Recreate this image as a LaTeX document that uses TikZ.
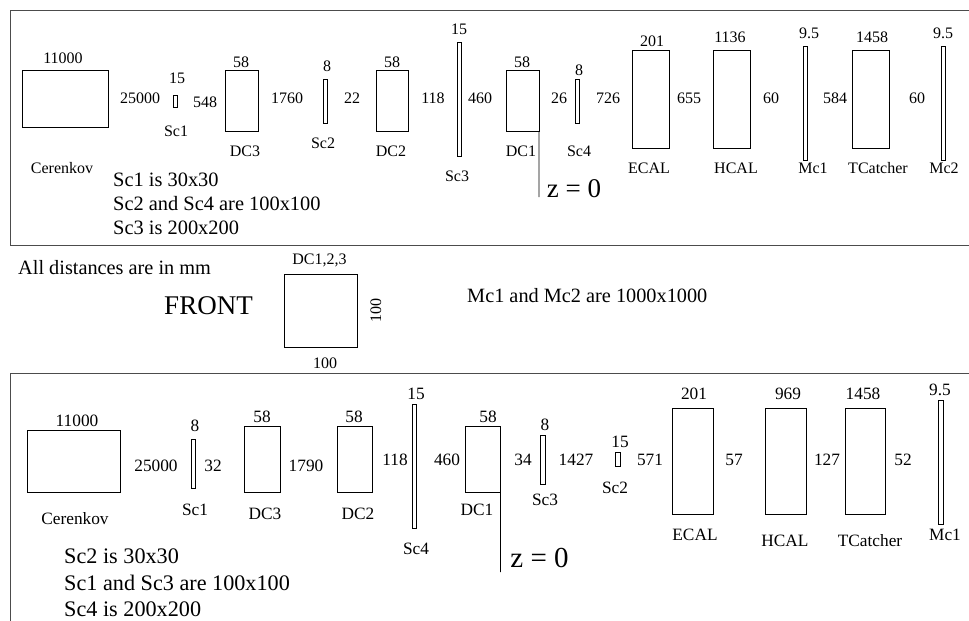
\documentclass[tikz,border=0pt]{standalone}
\usepackage{fontspec}
\setmainfont{Liberation Serif}
\usetikzlibrary{calc}

\tikzset{
  det/.style={draw=black, line width=0.8pt, inner sep=0pt, outer sep=0pt},
  toplab/.style={inner sep=0pt, font=\fontsize{16}{16}\selectfont},
  botlab/.style={inner sep=0pt, font=\fontsize{17.3}{17.3}\selectfont},
  topnote/.style={inner sep=0pt, anchor=west, font=\fontsize{20.4}{20.4}\selectfont},
  botnote/.style={inner sep=0pt, anchor=west, font=\fontsize{22.2}{22.2}\selectfont},
  midnote/.style={inner sep=0pt, anchor=west, font=\fontsize{20.3}{20.3}\selectfont},
  frame/.style={draw=black!70, line width=0.9pt}
}

\begin{document}
\begin{tikzpicture}[x=1pt, y=-1pt]

\useasboundingbox (0,0) rectangle (969,621);

% upper box
\draw[frame] (969,10) -- (10,10) -- (10,245) -- (969,245);

\node[det, minimum width=86pt, minimum height=57pt] (cerenkovA) at (65,99) {};
\node[det, minimum width=4pt, minimum height=12pt] (scOneA) at (175,101) {};
\node[det, minimum width=32.5pt, minimum height=61pt] (dcThreeA) at (241.7,101) {};
\node[det, minimum width=4pt, minimum height=44.5pt] (scTwoA) at (325,101.2) {};
\node[det, minimum width=32.5pt, minimum height=61pt] (dcTwoA) at (392.2,101) {};
\node[det, minimum width=4pt, minimum height=114pt] (scThreeA) at (459.5,99) {};
\node[det, minimum width=32.5pt, minimum height=61pt] (dcOneA) at (522.7,101) {};
\node[det, minimum width=4pt, minimum height=44.5pt] (scFourA) at (577.5,101.2) {};
\node[det, minimum width=36.5pt, minimum height=97.5pt] (ecalA) at (650.7,99.2) {};
\node[det, minimum width=37pt, minimum height=97.5pt] (hcalA) at (732,99.2) {};
\node[det, minimum width=4pt, minimum height=114pt] (mcOneA) at (805.5,103) {};
\node[det, minimum width=37pt, minimum height=97.5pt] (catcherA) at (870.5,99.2) {};
\node[det, minimum width=4pt, minimum height=114pt] (mcTwoA) at (943.5,103) {};

\node[toplab] (t1) at (63,58) {11000};
\node[toplab] (t2) at (177,78) {15};
\node[toplab] (t3) at (140,98) {25000};
\node[toplab] (t4) at (205,102) {548};
\node[toplab] (t5) at (241,62) {58};
\node[toplab] (t6) at (287,98) {1760};
\node[toplab] (t7) at (327,66) {8};
\node[toplab] (t8) at (352,98) {22};
\node[toplab] (t9) at (392,62) {58};
\node[toplab] (t10) at (433,98) {118};
\node[toplab] (t11) at (459,29) {15};
\node[toplab] (t12) at (480,98) {460};
\node[toplab] (t13) at (522,62) {58};
\node[toplab] (t14) at (559,98) {26};
\node[toplab] (t15) at (579,70) {8};
\node[toplab] (t16) at (608,98) {726};
\node[toplab] (t17) at (652,41) {201};
\node[toplab] (t18) at (689,98) {655};
\node[toplab] (t19) at (730,37) {1136};
\node[toplab] (t20) at (771,98) {60};
\node[toplab] (t21) at (809,33) {9.5};
\node[toplab] (t22) at (835,98) {584};
\node[toplab] (t23) at (872,37) {1458};
\node[toplab] (t24) at (917,98) {60};
\node[toplab] (t25) at (943,33) {9.5};

\node[toplab] (n1) at (62,168) {Cerenkov};
\node[toplab] (n2) at (176,131) {Sc1};
\node[toplab] (n3) at (245,151) {DC3};
\node[toplab] (n4) at (323,143) {Sc2};
\node[toplab] (n5) at (391,151) {DC2};
\node[toplab] (n6) at (457,176) {Sc3};
\node[toplab] (n7) at (521,151) {DC1};
\node[toplab] (n8) at (579,151) {Sc4};
\node[toplab] (n9) at (649,168) {ECAL};
\node[toplab] (n10) at (736,168) {HCAL};
\node[toplab] (n11) at (813,168) {Mc1};
\node[toplab] (n12) at (878,168) {TCatcher};
\node[toplab] (n13) at (944,168) {Mc2};

\node[topnote] (s1) at (113,180) {Sc1 is 30x30};
\node[topnote] (s2) at (113,204) {Sc2 and Sc4 are 100x100};
\node[topnote] (s3) at (113,228) {Sc3 is 200x200};

\coordinate (zendA) at (539,197);
\node[inner sep=0pt, font=\fontsize{27}{27}\selectfont] (zA) at (574,189) {z = 0};
\draw[line width=0.8pt] (dcOneA.south east) -- (zendA);

% middle part
\node[midnote] (m1) at (18,268) {All distances are in mm};
\node[toplab] (m2) at (319.5,260) {DC1,2,3};
\node[inner sep=0pt, font=\fontsize{27}{27}\selectfont] (m3) at (208.5,306) {FRONT};
\node[det, minimum width=73pt, minimum height=73pt] (front) at (320.5,310.5) {};
\node[toplab, rotate=90] (m4) at (376,310) {100};
\node[toplab] (m5) at (325,363) {100};
\node[midnote] (m6) at (467,296) {Mc1 and Mc2 are 1000x1000};

% lower box
\draw[frame] (969,373) -- (10,373) -- (10,621);

\node[det, minimum width=93pt, minimum height=62pt] (cerenkovB) at (74,461.5) {};
\node[det, minimum width=4.5pt, minimum height=48.5pt] (scOneB) at (193.2,463.7) {};
\node[det, minimum width=35.5pt, minimum height=66.5pt] (dcThreeB) at (262.2,459.2) {};
\node[det, minimum width=35.5pt, minimum height=66.5pt] (dcTwoB) at (354.7,459.2) {};
\node[det, minimum width=4.5pt, minimum height=124pt] (scFourB) at (414.2,466) {};
\node[det, minimum width=35.5pt, minimum height=66.5pt] (dcOneB) at (482.7,459.2) {};
\node[det, minimum width=4.5pt, minimum height=49pt] (scThreeB) at (542.7,459.5) {};
\node[det, minimum width=4.5pt, minimum height=13.5pt] (scTwoB) at (617.7,459.2) {};
\node[det, minimum width=40.5pt, minimum height=106.5pt] (ecalB) at (692.7,461.2) {};
\node[det, minimum width=40.5pt, minimum height=106.5pt] (hcalB) at (785.7,461.2) {};
\node[det, minimum width=40.5pt, minimum height=106.5pt] (catcherB) at (865.2,461.2) {};
\node[det, minimum width=4.5pt, minimum height=124pt] (mcOneB) at (940.7,462) {};

\node[botlab] (u1) at (77,421) {11000};
\node[botlab] (u2) at (195,426) {8};
\node[botlab] (u3) at (156,466) {25000};
\node[botlab] (u4) at (213,466) {32};
\node[botlab] (u5) at (262,417) {58};
\node[botlab] (u6) at (306,466) {1790};
\node[botlab] (u7) at (354,417) {58};
\node[botlab] (u8) at (395,460) {118};
\node[botlab] (u9) at (416,394) {15};
\node[botlab] (u10) at (447,460) {460};
\node[botlab] (u11) at (488,417) {58};
\node[botlab] (u12) at (523,460) {34};
\node[botlab] (u13) at (545,425) {8};
\node[botlab] (u14) at (576,460) {1427};
\node[botlab] (u15) at (620,442) {15};
\node[botlab] (u16) at (650,460) {571};
\node[botlab] (u17) at (694,394) {201};
\node[botlab] (u18) at (734,460) {57};
\node[botlab] (u19) at (788,394) {969};
\node[botlab] (u20) at (827,460) {127};
\node[botlab] (u21) at (863,394) {1458};
\node[botlab] (u22) at (903,460) {52};
\node[botlab] (u23) at (940,390) {9.5};

\node[botlab] (v1) at (75,519) {Cerenkov};
\node[botlab] (v2) at (195,510) {Sc1};
\node[botlab] (v3) at (265,514) {DC3};
\node[botlab] (v4) at (358,514) {DC2};
\node[botlab] (v5) at (477,510) {DC1};
\node[botlab] (v6) at (416,549) {Sc4};
\node[botlab] (v7) at (545,500) {Sc3};
\node[botlab] (v8) at (615,488) {Sc2};
\node[botlab] (v9) at (695,535) {ECAL};
\node[botlab] (v10) at (785,541) {HCAL};
\node[botlab] (v11) at (870,541) {TCatcher};
\node[botlab] (v12) at (945,535) {Mc1};

\node[botnote] (w1) at (64,556) {Sc2 is 30x30};
\node[botnote] (w2) at (64,583) {Sc1 and Sc3 are 100x100};
\node[botnote] (w3) at (64,609) {Sc4 is 200x200};

\coordinate (zendB) at (500.5,572);
\node[inner sep=0pt, font=\fontsize{29}{29}\selectfont] (zB) at (539.5,558) {z = 0};
\draw[line width=0.8pt] (dcOneB.south east) -- (zendB);

\end{tikzpicture}
\end{document}
